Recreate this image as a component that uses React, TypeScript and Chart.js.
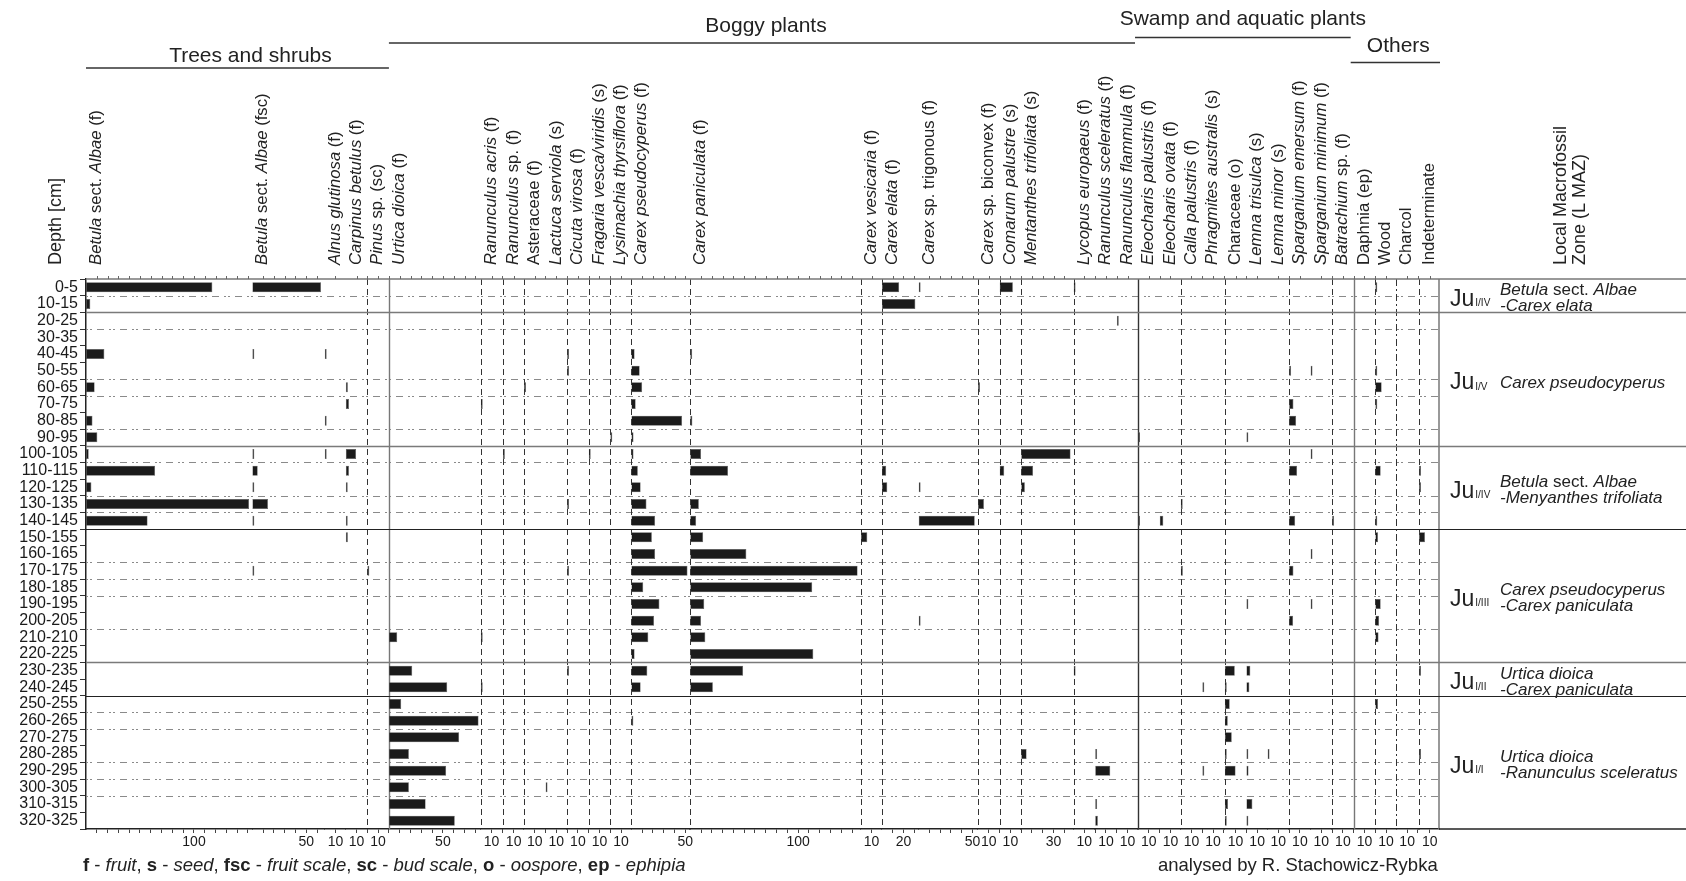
import React, { useEffect, useRef } from 'react';
import { Chart, registerables } from 'chart.js';

Chart.register(...registerables);

const FONT = '"Liberation Sans", Arial, Helvetica, sans-serif';
const INK = '#222';

// ---------- categories ----------
const depths = ['0-5', '10-15', '20-25', '30-35', '40-45', '50-55', '60-65', '70-75', '80-85', '90-95',
  '100-105', '110-115', '120-125', '130-135', '140-145', '150-155', '160-165', '170-175', '180-185', '190-195',
  '200-205', '210-210', '220-225', '230-235', '240-245', '250-255', '260-265', '270-275', '280-285', '290-295',
  '300-305', '310-315', '320-325'];

// ---------- series values (one per taxon, 33 depths; rows 0-9 | 10-19 | 20-29 | 30-32) ----------
const betulaF = [117, 4, 0, 0, 17, 0, 8, 0, 6, 10.5, 2.5, 64, 5, 151, 57, 0, 0, 0, 0, 0, 0, 0, 0, 0, 0, 0, 0, 0, 0, 0, 0, 0, 0];
const betulaFsc = [63.6, 0, 0, 0, 1, 0, 0, 0, 0, 0, 1, 5, 1, 14.5, 1, 0, 0, 1.2, 0, 0, 0, 0, 0, 0, 0, 0, 0, 0, 0, 0, 0, 0, 0];
const alnus = [0, 0, 0, 0, 1, 0, 0, 0, 1.5, 0, 1, 0, 0, 0, 0, 0, 0, 0, 0, 0, 0, 0, 0, 0, 0, 0, 0, 0, 0, 0, 0, 0, 0];
const carpinus = [0, 0, 0, 0, 0, 0, 2, 3, 0, 0, 9.6, 3, 1.5, 0, 1, 2, 0, 0, 0, 0, 0, 0, 0, 0, 0, 0, 0, 0, 0, 0, 0, 0, 0];
const pinus = [0, 0, 0, 0, 0, 0, 0, 0, 0, 0, 0, 0, 0, 0, 0, 0, 0, 1.2, 0, 0, 0, 0, 0, 0, 0, 0, 0, 0, 0, 0, 0, 0, 0];
const urtica = [0, 0, 0, 0, 0, 0, 0, 0, 0, 0, 0, 0, 0, 0, 0, 0, 0, 0, 0, 0, 0, 7.7, 0, 21.6, 54, 11.4, 83, 65, 18.5, 53, 18.5, 34, 61];
const ranAcris = [0, 0, 0, 0, 0, 0, 0, 1, 0, 0, 0, 0, 0, 0, 0, 0, 0, 0, 0, 0, 0, 1, 0, 0, 1, 0, 0, 0, 0, 0, 0, 0, 0];
const ranSp = [0, 0, 0, 0, 0, 0, 0, 0, 0, 0, 1, 0, 0, 0, 0, 0, 0, 0, 0, 0, 0, 0, 0, 0, 0, 0, 0, 0, 0, 0, 0, 0, 0];
const asteraceae = [0, 0, 0, 0, 0, 0, 2, 0, 0, 0, 0, 0, 0, 0, 0, 0, 0, 0, 0, 0, 0, 0, 0, 0, 0, 0, 0, 0, 0, 0, 0, 0, 0];
const lactuca = [0, 0, 0, 0, 0, 0, 0, 0, 0, 0, 0, 0, 0, 0, 0, 0, 0, 0, 0, 0, 0, 0, 0, 0, 0, 0, 0, 0, 0, 0, 1, 0, 0];
const cicuta = [0, 0, 0, 0, 1, 1, 0, 0, 0, 0, 0, 0, 0, 1, 0, 0, 0, 1.5, 0, 0, 0, 0, 0, 1, 0, 0, 0, 0, 0, 0, 0, 0, 0];
const fragaria = [0, 0, 0, 0, 0, 0, 0, 0, 0, 0, 1, 0, 0, 0, 0, 0, 0, 0, 0, 0, 0, 0, 0, 0, 0, 0, 0, 0, 0, 0, 0, 0, 0];
const lysimachia = [0, 0, 0, 0, 0, 0, 0, 0, 0, 1, 0, 0, 0, 0, 0, 0, 0, 0, 0, 0, 0, 0, 0, 0, 0, 0, 0, 0, 0, 0, 0, 0, 0];
const carexPseudo = [0, 0, 0, 0, 3, 7.7, 10, 4, 47, 2, 2, 6, 8.6, 14, 22, 19, 22, 52, 11, 26, 21, 15.7, 3, 14.8, 8.6, 0, 1, 0, 0, 0, 0, 0, 0];
const carexPanic = [0, 0, 0, 0, 1, 0, 0, 0, 2, 0, 10, 35, 0, 8, 5.5, 12, 52, 155, 113, 13, 10, 14, 114, 49, 21, 0, 0, 0, 0, 0, 0, 0, 0];
const carexVesic = [0, 0, 0, 0, 0, 0, 0, 0, 0, 0, 0, 0, 0, 0, 0, 6, 0, 0, 0, 0, 0, 0, 0, 0, 0, 0, 0, 0, 0, 0, 0, 0, 0];
const carexElata = [16, 31, 0, 0, 0, 0, 0, 0, 0, 0, 0, 4, 5, 0, 0, 0, 0, 0, 0, 0, 0, 0, 0, 0, 0, 0, 0, 0, 0, 0, 0, 0, 0];
const carexTrig = [1, 0, 0, 0, 0, 0, 0, 0, 0, 0, 0, 0, 1, 0, 52, 0, 0, 0, 0, 0, 1, 0, 0, 0, 0, 0, 0, 0, 0, 0, 0, 0, 0];
const carexBicon = [0, 0, 0, 0, 0, 0, 1, 0, 0, 0, 0, 0, 0, 5.5, 0, 0, 0, 0, 0, 0, 0, 0, 0, 0, 0, 0, 0, 0, 0, 0, 0, 0, 0];
const comarum = [12.3, 0, 0, 0, 0, 0, 0, 0, 0, 0, 0, 4.3, 0, 0, 0, 0, 0, 0, 0, 0, 0, 0, 0, 0, 0, 0, 0, 0, 0, 0, 0, 0, 0];
const mentanthes = [0, 0, 0, 0, 0, 0, 0, 0, 0, 0, 45.7, 11, 3.4, 0, 0, 0, 0, 0, 0, 0, 0, 0, 0, 0, 0, 0, 0, 0, 5, 0, 0, 0, 0];
const lycopus = [1.5, 0, 0, 0, 0, 0, 0, 0, 0, 0, 0, 0, 0, 0, 0, 0, 0, 0, 0, 0, 0, 0, 0, 1.5, 0, 0, 0, 0, 0, 0, 0, 0, 0];
const ranScel = [0, 0, 0, 0, 0, 0, 0, 0, 0, 0, 0, 0, 0, 0, 0, 0, 0, 0, 0, 0, 0, 0, 0, 0, 0, 0, 0, 0, 1.5, 14, 0, 1.5, 2.5];
const ranFlam = [0, 0, 1.2, 0, 0, 0, 0, 0, 0, 0, 0, 0, 0, 0, 0, 0, 0, 0, 0, 0, 0, 0, 0, 0, 0, 0, 0, 0, 0, 0, 0, 0, 0];
const eleoPal = [0, 0, 0, 0, 0, 0, 0, 0, 0, 1.8, 0, 0, 0, 0, 1, 0, 0, 0, 0, 0, 0, 0, 0, 0, 0, 0, 0, 0, 0, 0, 0, 0, 0];
const eleoOvata = [0, 0, 0, 0, 0, 0, 0, 0, 0, 0, 0, 0, 0, 0, 3.4, 0, 0, 0, 0, 0, 0, 0, 0, 0, 0, 0, 0, 0, 0, 0, 0, 0, 0];
const calla = [0, 0, 0, 0, 0, 0, 0, 0, 0, 0, 0, 0, 0, 1.5, 0, 0, 0, 2, 0, 0, 0, 0, 0, 0, 0, 0, 0, 0, 0, 0, 0, 0, 0];
const phragmites = [0, 0, 0, 0, 0, 0, 0, 0, 0, 0, 0, 0, 0, 0, 0, 0, 0, 0, 0, 0, 0, 0, 0, 0, 1, 0, 0, 0, 0, 1.5, 0, 0, 0];
const characeae = [0, 0, 0, 0, 0, 0, 0, 0, 0, 0, 0, 0, 0, 0, 0, 0, 0, 0, 0, 0, 0, 0, 0, 9.3, 1.8, 4.6, 2.8, 6.5, 1.8, 10, 0, 3, 1];
const lemnaTris = [0, 0, 0, 0, 0, 0, 0, 0, 0, 1, 0, 0, 0, 0, 0, 0, 0, 0, 0, 1, 0, 0, 0, 3.7, 2.8, 0, 0, 0, 1, 2, 0, 5.6, 1.5];
const lemnaMinor = [0, 0, 0, 0, 0, 0, 0, 0, 0, 0, 0, 0, 0, 0, 0, 0, 0, 0, 0, 0, 0, 0, 0, 0, 0, 0, 0, 0, 1.5, 0, 0, 0, 0];
const spargEmer = [0, 0, 0, 0, 0, 1, 0, 4, 6.5, 0, 0, 7.4, 0, 0, 5.6, 0, 0, 4, 0, 0, 3.7, 0, 0, 0, 0, 0, 0, 0, 0, 0, 0, 0, 0];
const spargMin = [0, 0, 0, 0, 0, 1, 0, 0, 0, 0, 1, 0, 0, 0, 0, 0, 1, 0, 0, 1, 0, 0, 0, 0, 0, 0, 0, 0, 0, 0, 0, 0, 0];
const batrachium = [0, 0, 0, 0, 0, 0, 0, 0, 0, 0, 0, 0, 0, 0, 1, 0, 0, 0, 0, 0, 0, 0, 0, 0, 0, 0, 0, 0, 0, 0, 0, 0, 0];
const daphnia = [0, 0, 0, 0, 0, 0, 0, 0, 0, 0, 0, 0, 0, 0, 0, 0, 0, 0, 0, 0, 0, 0, 0, 0, 0, 0, 0, 0, 0, 0, 0, 0, 0];
const wood = [1, 0, 0, 0, 0, 1, 5.9, 1, 0, 0, 0, 5, 0, 0, 1.5, 2.5, 0, 0, 0, 5, 3.5, 3, 0, 0, 0, 2.5, 0, 0, 0, 0, 0, 0, 0];
const charcol = [0, 0, 0, 0, 0, 0, 0, 0, 0, 0, 0, 0, 0, 0, 0, 0, 0, 0, 0, 0, 0, 0, 0, 0, 0, 0, 0, 0, 0, 0, 0, 0, 0];
const indet = [0, 0, 0, 0, 0, 0, 0, 0, 0, 0, 0, 1.8, 1.8, 0, 0, 5.5, 0, 0, 0, 0, 0, 0, 0, 1, 0, 0, 0, 0, 1.8, 0, 0, 0, 0];

// ---------- taxa (markup: *italic*) ----------
const taxa = [
  '*Betula* sect. *Albae* (f)', '*Betula* sect. *Albae* (fsc)', '*Alnus glutinosa* (f)', '*Carpinus betulus* (f)',
  '*Pinus* sp. (sc)', '*Urtica dioica* (f)', '*Ranunculus acris* (f)', '*Ranunculus* sp. (f)', 'Asteraceae (f)',
  '*Lactuca serviola* (s)', '*Cicuta virosa* (f)', '*Fragaria vesca/viridis* (s)', '*Lysimachia thyrsiflora* (f)',
  '*Carex pseudocyperus* (f)', '*Carex paniculata* (f)', '*Carex vesicaria* (f)', '*Carex elata* (f)',
  '*Carex* sp. trigonous (f)', '*Carex* sp. biconvex (f)', '*Comarum palustre* (s)', '*Mentanthes trifoliata* (s)',
  '*Lycopus europaeus* (f)', '*Ranunculus sceleratus* (f)', '*Ranunculus flammula* (f)', '*Eleocharis palustris* (f)',
  '*Eleocharis ovata* (f)', '*Calla palustris* (f)', '*Phragmites australis* (s)', 'Characeae (o)', '*Lemna trisulca* (s)',
  '*Lemna minor* (s)', '*Sparganium emersum* (f)', '*Sparganium minimum* (f)', '*Batrachium* sp. (f)', 'Daphnia (ep)',
  'Wood', 'Charcol', 'Indeterminate',
];
const series = [betulaF, betulaFsc, alnus, carpinus, pinus, urtica, ranAcris, ranSp, asteraceae, lactuca, cicuta,
  fragaria, lysimachia, carexPseudo, carexPanic, carexVesic, carexElata, carexTrig, carexBicon, comarum, mentanthes,
  lycopus, ranScel, ranFlam, eleoPal, eleoOvata, calla, phragmites, characeae, lemnaTris, lemnaMinor, spargEmer,
  spargMin, batrachium, daphnia, wood, charcol, indet];

// axis range of each column (its share of the width) and the one labelled tick
const colMax = [154, 67, 19.5, 20, 20, 85, 20.5, 19.5, 20, 20, 20, 20, 19.5, 54.5, 158, 19.5, 34, 55, 20, 20, 48.5,
  20, 20, 19.7, 20, 19.5, 20, 20.8, 20, 19.6, 20, 19.8, 20, 20, 20, 19.5, 21, 18.5];
const tickLabel = [100, 50, 10, 10, 10, 50, 10, 10, 10, 10, 10, 10, 10, 50, 100, 10, 20, 50, 10, 10, 30, 10, 10, 10,
  10, 10, 10, 10, 10, 10, 10, 10, 10, 10, 10, 10, 10, 10];

// groups
const groupNames = ['Trees and shrubs', 'Boggy plants', 'Swamp and aquatic plants', 'Others'];
const groupStart = [0, 5, 24, 34];

// zones
const zoneStarts = [0, 2, 10, 15, 23, 25];
const zoneCodes = ['I/IV', 'I/V', 'I/IV', 'I/III', 'I/II', 'I/I'];
const zoneNames = [
  ['*Betula* sect. *Albae*', '*-Carex elata*'],
  ['*Carex pseudocyperus*'],
  ['*Betula* sect. *Albae*', '*-Menyanthes trifoliata*'],
  ['*Carex pseudocyperus*', '*-Carex paniculata*'],
  ['*Urtica dioica*', '*-Carex paniculata*'],
  ['*Urtica dioica*', '*-Ranunculus sceleratus*'],
];

// ---------- styles ----------
// column separator style: n none, d dashed, g solid grey, s solid dark, c dash-dot
const colLine = ['n', 'n', 'n', 'n', 'd', 'g', 'd', 'd', 'd', 'n', 'd', 'd', 'd', 'd', 'd', 'd', 'd', 'n', 'd', 'd',
  'd', 'd', 'n', 'n', 's', 'n', 'd', 'n', 'd', 'n', 'n', 'd', 'n', 'd', 'g', 'd', 'c', 'd'];
const sepRows = [1, 3, 6, 7, 9, 11, 13, 14, 17, 18, 19, 21, 26, 27, 29, 30, 31];
const zoneLineColor = ['#7a7a7a', '#7a7a7a', '#222', '#7a7a7a', '#222'];
const headerTextY = [56, 26, 19.5, 46.5];
const headerLineY = [68, 43, 37.5, 62.5];
const headerTextDx = [13, 4, 0, 3];

type Seg = [string, string];
function parse(markup: string): Seg[] {
  return markup.split('*').map((t, i) => [t, i % 2 === 1 ? 'i' : 'n'] as Seg).filter((p) => p[0].length > 0);
}
function fontOf(style: string, size: number) {
  return `${style === 'i' ? 'italic ' : ''}${style === 'b' ? 'bold ' : ''}${size}px ${FONT}`;
}
function drawSegs(ctx: CanvasRenderingContext2D, segs: Seg[], x: number, y: number, size: number) {
  let cx = x;
  for (const [t, s] of segs) {
    ctx.font = fontOf(s, size);
    ctx.fillText(t, cx, y);
    cx += ctx.measureText(t).width;
  }
  return cx;
}
function seg(ctx: CanvasRenderingContext2D, x0: number, y0: number, x1: number, y1: number) {
  ctx.beginPath();
  ctx.moveTo(x0, y0);
  ctx.lineTo(x1, y1);
  ctx.stroke();
}

const legendSegs: Seg[] = [['f', 'b'], [' - ', 'n'], ['fruit', 'i'], [', ', 'n'], ['s', 'b'], [' - ', 'n'], ['seed', 'i'],
  [', ', 'n'], ['fsc', 'b'], [' - ', 'n'], ['fruit scale', 'i'], [', ', 'n'], ['sc', 'b'], [' - ', 'n'], ['bud scale', 'i'],
  [', ', 'n'], ['o', 'b'], [' - ', 'n'], ['oospore', 'i'], [', ', 'n'], ['ep', 'b'], [' - ', 'n'], ['ephipia', 'i']];

const deco = {
  id: 'deco',
  beforeDatasetsDraw(chart: any) {
    const ctx: CanvasRenderingContext2D = chart.ctx;
    const ca = chart.chartArea;
    const ys = chart.scales.y;
    const W = chart.width;
    const bound = (k: number) => (k <= 0 ? ca.top : k >= depths.length ? ca.bottom
      : (ys.getPixelForValue(k - 1) + ys.getPixelForValue(k)) / 2);
    ctx.save();
    // dotted sample lines
    ctx.strokeStyle = '#8a8a8a';
    ctx.lineWidth = 1;
    ctx.setLineDash([2, 2, 2, 5, 7, 5]);
    for (const k of sepRows) {
      const y = Math.round(bound(k)) + 0.5;
      seg(ctx, ca.left, y, ca.right, y);
    }
    // column separators
    taxa.forEach((_, i) => {
      const st = colLine[i];
      if (st === 'n') return;
      const x = Math.round(chart.scales['x' + i].left) + 0.5;
      ctx.lineWidth = st === 'g' || st === 's' ? 1.4 : 1;
      ctx.strokeStyle = st === 'g' ? '#777' : '#333';
      ctx.setLineDash(st === 'd' ? [6, 4] : st === 'c' ? [7, 3, 2, 3] : []);
      seg(ctx, x, ca.top, x, ca.bottom);
    });
    ctx.setLineDash([]);
    ctx.strokeStyle = '#777';
    ctx.lineWidth = 1.5;
    seg(ctx, ca.right, ca.top, ca.right, ca.bottom);
    // zone boundaries
    zoneStarts.slice(1).forEach((k, j) => {
      const y = Math.round(bound(k)) + 0.5;
      ctx.strokeStyle = zoneLineColor[j];
      ctx.lineWidth = zoneLineColor[j] === '#222' ? 1 : 1.6;
      seg(ctx, ca.left, y, W, y);
    });
    // top frame + extension of bottom frame
    ctx.strokeStyle = '#777';
    ctx.lineWidth = 1.6;
    seg(ctx, ca.left, ca.top, W, ca.top);
    ctx.strokeStyle = '#222';
    ctx.lineWidth = 1.5;
    seg(ctx, ca.right, ca.bottom, W, ca.bottom);
    // small ticks on the top frame
    ctx.strokeStyle = '#666';
    ctx.lineWidth = 1;
    taxa.forEach((_, i) => {
      const s = chart.scales['x' + i];
      for (const t of s.ticks) {
        const x = Math.round(s.getPixelForValue(t.value)) + 0.5;
        seg(ctx, x, ca.top - 3, x, ca.top);
      }
    });
    ctx.restore();
  },
  afterDraw(chart: any) {
    const ctx: CanvasRenderingContext2D = chart.ctx;
    const ca = chart.chartArea;
    const ys = chart.scales.y;
    const bound = (k: number) => (k <= 0 ? ca.top : k >= depths.length ? ca.bottom
      : (ys.getPixelForValue(k - 1) + ys.getPixelForValue(k)) / 2);
    ctx.save();
    ctx.fillStyle = INK;
    ctx.textAlign = 'left';
    ctx.textBaseline = 'middle';
    const labelFoot = 265;
    // rotated taxon labels
    taxa.forEach((name, i) => {
      const x = chart.scales['x' + i].left + 10.5;
      ctx.save();
      ctx.translate(x, labelFoot);
      ctx.rotate(-Math.PI / 2);
      drawSegs(ctx, parse(name), 0, 0, 16.7);
      ctx.restore();
    });
    const rotText = (t: string, x: number, size: number) => {
      ctx.save();
      ctx.translate(x, labelFoot);
      ctx.rotate(-Math.PI / 2);
      ctx.font = `${size}px ${FONT}`;
      ctx.fillText(t, 0, 0);
      ctx.restore();
    };
    rotText('Depth [cm]', 56, 18);
    rotText('Local Macrofossil', 1561.5, 18);
    rotText('Zone (L MAZ)', 1580, 18);
    // group headers
    groupNames.forEach((g, j) => {
      const x0 = chart.scales['x' + groupStart[j]].left - (j >= 2 ? 3 : 0);
      const x1 = j + 1 < groupStart.length ? chart.scales['x' + groupStart[j + 1]].left - (j >= 1 ? 3 : 0) : ca.right + 1;
      ctx.strokeStyle = '#333';
      ctx.lineWidth = 1.3;
      seg(ctx, x0, headerLineY[j], x1, headerLineY[j]);
      ctx.font = `21px ${FONT}`;
      ctx.textAlign = 'center';
      ctx.fillText(g, (x0 + x1) / 2 + headerTextDx[j], headerTextY[j]);
      ctx.textAlign = 'left';
    });
    // zones
    zoneStarts.forEach((s, z) => {
      const e = z + 1 < zoneStarts.length ? zoneStarts[z + 1] : depths.length;
      const mid = (bound(s) + bound(e)) / 2;
      ctx.font = `23px ${FONT}`;
      ctx.fillText('Ju', 1450, mid + 4);
      const w = ctx.measureText('Ju').width;
      ctx.font = `10px ${FONT}`;
      ctx.fillText(zoneCodes[z], 1450 + w + 1, mid + 8);
      const lines = zoneNames[z];
      if (lines.length === 1) {
        drawSegs(ctx, parse(lines[0]), 1500, mid + 4, 17);
      } else {
        drawSegs(ctx, parse(lines[0]), 1500, mid - 5, 17);
        drawSegs(ctx, parse(lines[1]), 1500, mid + 11, 17);
      }
    });
    // footer
    drawSegs(ctx, legendSegs, 83, 866, 18.5);
    ctx.font = `18.5px ${FONT}`;
    ctx.fillText('analysed by R. Stachowicz-Rybka', 1158, 866);
    ctx.restore();
  },
};

export default function App() {
  const ref = useRef<HTMLCanvasElement>(null);
  useEffect(() => {
    Chart.defaults.font.family = FONT;
    const scales: any = {
      y: {
        type: 'category',
        labels: depths,
        position: 'left',
        offset: true,
        grid: { display: true, drawOnChartArea: false, drawTicks: true, tickLength: 6, color: '#333' },
        border: { display: true, color: '#222', width: 1.5 },
        ticks: { font: { size: 16 }, color: '#1a1a1a', padding: 2, autoSkip: false },
        afterFit: (s: any) => { s.width = 86; },
      },
    };
    taxa.forEach((_, i) => {
      scales['x' + i] = {
        type: 'linear',
        position: 'bottom',
        stack: 'cols',
        stackWeight: colMax[i],
        min: 0,
        max: colMax[i],
        afterBuildTicks: (s: any) => {
          const arr: any[] = [];
          for (let v = 10; v <= colMax[i] + 1e-9; v += 10) arr.push({ value: v });
          s.ticks = arr;
        },
        ticks: {
          autoSkip: false, maxRotation: 0, minRotation: 0, padding: 1,
          font: { size: 14 }, color: '#1a1a1a',
          callback: (v: any) => (v === tickLabel[i] ? String(v) : ''),
        },
        grid: { display: true, drawOnChartArea: false, drawTicks: true, tickLength: 4, color: '#444' },
        border: { display: true, color: '#222', width: 1.5 },
        afterFit: (s: any) => { s.height = 24; },
      };
    });
    const chart = new Chart(ref.current as HTMLCanvasElement, {
      type: 'bar',
      data: {
        labels: depths,
        datasets: series.map((vals, i) => ({
          label: taxa[i],
          data: vals.map((v) => (v > 0 ? v : null)),
          xAxisID: 'x' + i,
          yAxisID: 'y',
          backgroundColor: '#1b1b1b',
          borderColor: '#555',
          borderWidth: 0.6,
          borderSkipped: false,
          grouped: false,
          barPercentage: 0.6,
          categoryPercentage: 1,
          minBarLength: 2,
        })) as any,
      },
      options: {
        indexAxis: 'y',
        animation: false,
        responsive: false,
        devicePixelRatio: 1,
        events: [],
        layout: { padding: { top: 279, bottom: 28, left: 0, right: 247 } },
        plugins: { legend: { display: false }, tooltip: { enabled: false } },
        scales,
      } as any,
      plugins: [deco],
    });
    return () => chart.destroy();
  }, []);
  return (
    <div style={{ position: 'fixed', left: 0, top: 0, width: 1686, height: 881, background: '#fff' }}>
      <canvas ref={ref} width={1686} height={881} style={{ display: 'block', width: 1686, height: 881 }} />
    </div>
  );
}
